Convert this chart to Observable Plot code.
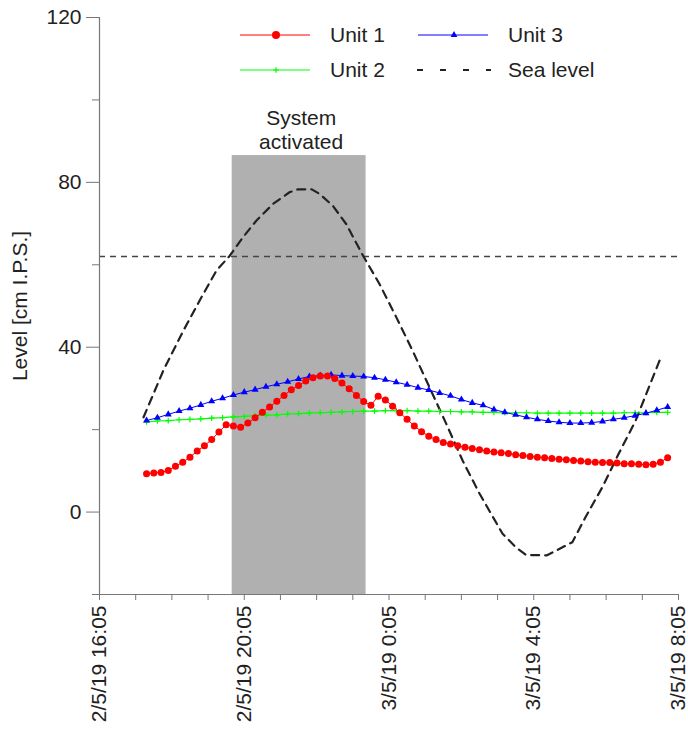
<!DOCTYPE html>
<html><head><meta charset="utf-8">
<script src="https://cdn.jsdelivr.net/npm/d3@7"></script>
<script src="https://cdn.jsdelivr.net/npm/@observablehq/plot@0.6"></script>
<style>
body{margin:0;background:#fff;}
#wrap{position:relative;width:688px;height:738px;font-family:"Liberation Sans",Arial,sans-serif;}
#legend{position:absolute;left:0;top:0;}
</style></head><body><div id="wrap"></div>
<script>
// ---- data ----
const startTime = "2019-05-02T16:05Z";
const endTime = "2019-05-03T08:05Z";
const unitStart = "2019-05-02T17:23Z";
const unit1StepMin = 12;
const unit23StepMin = 18;
const unit1 = [9.3,9.5,9.6,10.1,11.1,12.1,13.3,14.8,16.1,17.6,
  19.4,21.2,20.9,20.6,21.6,22.9,24.2,25.5,26.9,28.3,
  29.7,30.7,31.8,32.6,33.0,33.0,32.4,31.3,29.9,28.3,
  26.8,25.9,28.1,27.2,25.7,24.1,22.5,20.9,19.5,18.4,
  17.6,16.9,16.5,16.1,15.7,15.4,15.1,14.8,14.6,14.4,
  14.2,13.9,13.7,13.5,13.3,13.2,13.0,12.8,12.7,12.5,
  12.4,12.2,12.1,12.0,12.0,11.9,11.7,11.7,11.6,11.5,
  11.6,12.1,13.2];
const unit2 = [21.9,22.1,22.2,22.4,22.5,22.6,22.8,22.9,23.1,23.2,
  23.4,23.5,23.6,23.8,23.9,24.0,24.1,24.2,24.3,24.4,
  24.5,24.5,24.6,24.6,24.6,24.5,24.5,24.4,24.4,24.3,
  24.3,24.2,24.2,24.1,24.1,24.1,24.0,24.0,24.0,24.0,
  24.0,24.0,24.0,24.0,24.1,24.1,24.1,24.2,24.2];
const unit3 = [22.2,22.9,23.7,24.5,25.2,26.0,26.9,27.6,28.4,29.1,
  29.7,30.4,31.0,31.6,32.3,32.9,33.1,33.3,33.1,33.0,
  32.9,32.6,32.1,31.5,30.9,30.2,29.6,28.9,28.2,27.3,
  26.5,25.9,24.9,24.2,23.6,23.0,22.5,22.1,21.8,21.6,
  21.6,21.7,22.0,22.5,22.9,23.4,24.0,24.7,25.5];
const seaClock = ["17:18","17:51","18:24","18:54","19:19","19:41","20:03","20:25","20:53","21:20",
  "21:34","21:57","22:10","22:32","22:54","23:22","23:49","0:17","0:44","1:12",
  "1:40","2:07","2:35","3:13","3:35","3:52","4:27","5:09","5:31","5:59",
  "6:26","6:54","7:16","7:37"];
const seaLevel = [23.0,34.4,44.0,52.1,58.6,62.2,66.7,70.7,74.8,77.6,
  78.3,78.3,77.2,74.3,69.9,62.2,55.4,47.3,39.2,30.3,
  21.4,12.5,4.5,-5.2,-8.5,-10.4,-10.5,-7.3,-1.2,6.1,
  14.2,22.2,30.3,38.0];
const thresholdLevel = 62;
const activeStart = "2019-05-02T19:45Z";
const activeEnd = "2019-05-02T23:27Z";
const activeTop = 86.5;
const activeLabel = "System\nactivated";
const majorTickHours = [0, 4, 8, 12, 16];
const minorTickHours = [1,2,3,5,6,7,9,10,11,13,14,15];
const yTicks = [0, 40, 80, 120];
const yMinorTicks = [-20, 20, 60, 100];
const yLabel = "Level [cm I.P.S.]";
const seriesNames = ["Unit 1", "Unit 2", "Unit 3", "Sea level"];
const seriesColors = ["#ff0000", "#00ff00", "#0000ff", "#222222"];

// ---- build ----
const t0 = new Date(startTime), t1 = new Date(endTime);
const us = new Date(unitStart);
const addMin = (d, m) => new Date(+d + m * 60000);
const d1 = unit1.map((v, i) => ({t: addMin(us, i * unit1StepMin), v}));
const d2 = unit2.map((v, i) => ({t: addMin(us, i * unit23StepMin), v}));
const d3u = unit3.map((v, i) => ({t: addMin(us, i * unit23StepMin), v}));
const seaData = seaClock.map((c, i) => {
  const [h, m] = c.split(":").map(Number);
  const day = h >= 12 ? 2 : 3;
  return {t: new Date(Date.UTC(2019, 4, day, h, m)), v: seaLevel[i]};
});
const majorTicks = majorTickHours.map(h => addMin(t0, h * 60));
const minorTicks = minorTickHours.map(h => addMin(t0, h * 60));
const fmt = d => `${d.getUTCDate()}/${d.getUTCMonth() + 1}/${String(d.getUTCFullYear()).slice(2)} ${d.getUTCHours()}:${String(d.getUTCMinutes()).padStart(2, "0")}`;
const aS = new Date(activeStart), aE = new Date(activeEnd);
const boxData = [{x1: aS, x2: aE, y1: -20, y2: activeTop}];
const labelData = [{t: new Date((+aS + +aE) / 2), y: activeTop, label: activeLabel}];
const FONT = '"Liberation Sans", Arial, sans-serif';

const chart = Plot.plot({
  width: 688, height: 738,
  marginLeft: 99, marginRight: 10, marginTop: 17, marginBottom: 144,
  style: {fontFamily: FONT, fontSize: "21px", color: "#222", background: "white", overflow: "visible"},
  x: {type: "utc", domain: [t0, t1]},
  y: {domain: [-20, 120]},
  marks: [
    Plot.rect(boxData, {x1: "x1", x2: "x2", y1: "y1", y2: "y2", fill: "#b0b0b0"}),
    Plot.text(labelData, {x: "t", y: "y", text: "label", dy: -7, dx: 2, lineAnchor: "bottom", lineHeight: 1.11, fontSize: 21, fill: "#222"}),
    Plot.ruleY([thresholdLevel], {stroke: "#444", strokeWidth: 1.5, strokeDasharray: "6,5"}),
    Plot.line(seaData, {x: "t", y: "v", stroke: seriesColors[3], strokeWidth: 2.2, strokeDasharray: "8,6"}),
    Plot.line(d2, {x: "t", y: "v", stroke: seriesColors[1], strokeWidth: 1.2}),
    Plot.dot(d2, {x: "t", y: "v", symbol: "plus", stroke: seriesColors[1], strokeWidth: 1.2, r: 2}),
    Plot.line(d3u, {x: "t", y: "v", stroke: seriesColors[2], strokeWidth: 1}),
    Plot.dot(d3u, {x: "t", y: "v", symbol: "triangle", fill: seriesColors[2], r: 2.6}),
    Plot.line(d1, {x: "t", y: "v", stroke: seriesColors[0], strokeWidth: 1}),
    Plot.dot(d1, {x: "t", y: "v", fill: seriesColors[0], r: 3.5}),
    Plot.ruleX([t0], {y1: -20, y2: 120, stroke: "#777", strokeWidth: 1.2}),
    Plot.ruleY([-20], {stroke: "#777", strokeWidth: 1.2}),
    Plot.axisY({ticks: yTicks, tickSize: 13, tickPadding: 5, stroke: "#777", fill: "#222", label: null, fontSize: 21}),
    Plot.axisY({ticks: yMinorTicks, tickSize: 7, tickFormat: () => "", stroke: "#777", label: null}),
    Plot.axisX({ticks: majorTicks, tickSize: 6, tickPadding: 5, tickRotate: -90, tickFormat: fmt, stroke: "#777", fill: "#222", label: null, fontSize: 21}),
    Plot.axisX({ticks: minorTicks, tickSize: 6, tickFormat: () => "", stroke: "#777", label: null}),
    Plot.text([yLabel], {frameAnchor: "left", dx: -79, rotate: -90, textAnchor: "middle", fill: "#222", fontSize: 21})
  ]
});
const wrap = document.getElementById("wrap");
wrap.appendChild(chart);

// ---- legend ----
const legendItems = [
  {name: seriesNames[0], color: seriesColors[0], sym: "circle", col: 0, row: 0},
  {name: seriesNames[2], color: seriesColors[2], sym: "triangle", col: 1, row: 0},
  {name: seriesNames[1], color: seriesColors[1], sym: "plus", col: 0, row: 1},
  {name: seriesNames[3], color: seriesColors[3], sym: "dash", col: 1, row: 1}
];
const colX = [240, 418], rowY = [35, 70];
const leg = d3.select(wrap).append("svg").attr("id", "legend").attr("width", 688).attr("height", 100)
  .style("font-family", FONT).style("font-size", "21px");
for (const it of legendItems) {
  const x0 = colX[it.col], y = rowY[it.row];
  const g = leg.append("g");
  if (it.sym === "dash") {
    g.append("line").attr("x1", x0 - 1).attr("x2", x0 + 73).attr("y1", y).attr("y2", y)
      .attr("stroke", it.color).attr("stroke-width", 2).attr("stroke-dasharray", "6,17");
  } else {
    g.append("line").attr("x1", x0).attr("x2", x0 + 70).attr("y1", y).attr("y2", y)
      .attr("stroke", it.color).attr("stroke-width", 1);
    const s = it.sym === "circle" ? d3.symbol(d3.symbolCircle, Math.PI * 16)
      : it.sym === "triangle" ? d3.symbol(d3.symbolTriangle, Math.PI * 6.25)
      : d3.symbol(d3.symbolPlus, Math.PI * 3.6);
    const p = g.append("path").attr("d", s()).attr("transform", `translate(${x0 + 36},${y})`);
    if (it.sym === "plus") p.attr("fill", "none").attr("stroke", it.color).attr("stroke-width", 1.2);
    else p.attr("fill", it.color);
  }
  g.append("text").attr("x", x0 + 90).attr("y", y).attr("dy", "0.35em").attr("fill", "#222").text(it.name);
}
</script></body></html>
